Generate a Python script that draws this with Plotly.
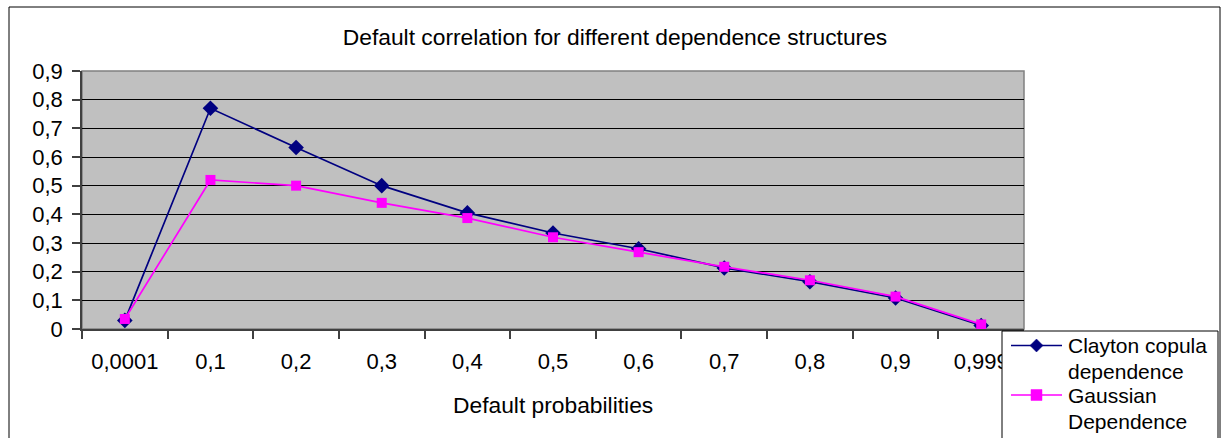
import plotly.graph_objects as go

# Default probability buckets (category axis) and correlations per dependence model
categories = ["0,0001", "0,1", "0,2", "0,3", "0,4", "0,5", "0,6", "0,7", "0,8", "0,9", "0,999"]
clayton = [0.03, 0.77, 0.633, 0.50, 0.405, 0.335, 0.28, 0.213, 0.165, 0.108, 0.012]
gaussian = [0.035, 0.52, 0.50, 0.44, 0.387, 0.32, 0.268, 0.217, 0.17, 0.113, 0.016]

series_names = ["Clayton copula dependence", "Gaussian Dependence"]
series_label_lines = [["Clayton copula", "dependence"], ["Gaussian", "Dependence"]]
series_colors = ["#000080", "#FF00FF"]

y_tickvals = [0, 0.1, 0.2, 0.3, 0.4, 0.5, 0.6, 0.7, 0.8, 0.9]
y_ticktext = ["0", "0,1", "0,2", "0,3", "0,4", "0,5", "0,6", "0,7", "0,8", "0,9"]

FONT = "Liberation Sans, Arial, sans-serif"
FS = 22
FS_TITLE = 22.8
FS_LEG = 21
W, H = 1230, 438
ML, MR, MT, MB = 82, 206, 71, 109

fig = go.Figure()
fig.add_trace(go.Scatter(
    x=categories, y=clayton, mode="lines+markers",
    name=series_names[0], showlegend=False,
    line=dict(color=series_colors[0], width=1.7),
    marker=dict(symbol="diamond", size=12, color=series_colors[0]),
))
fig.add_trace(go.Scatter(
    x=categories, y=gaussian, mode="lines+markers",
    name=series_names[1], showlegend=False,
    line=dict(color=series_colors[1], width=1.7),
    marker=dict(symbol="square", size=10, color=series_colors[1]),
))

pw = W - ML - MR
ph = H - MT - MB


def px_x(p):
    return (p - ML) / pw


def px_y(p):
    return (H - MB - p) / ph


# outer chart frame
fig.add_shape(type="rect", xref="paper", yref="paper",
              x0=px_x(9), x1=px_x(1220), y0=px_y(460), y1=px_y(7),
              line=dict(color="#000000", width=1), layer="below")
# plot area frame
fig.add_shape(type="rect", xref="paper", yref="paper",
              x0=0, x1=1, y0=0, y1=1,
              line=dict(color="#808080", width=1.5), layer="below")

# x-axis title
fig.add_annotation(text="Default probabilities", xref="paper", yref="paper",
                   x=0.5, y=px_y(405), xanchor="center", yanchor="middle",
                   showarrow=False, font=dict(family=FONT, size=FS_TITLE, color="#000000"))

# legend box with keys (line + symbol) and two-line labels
fig.add_shape(type="rect", xref="paper", yref="paper",
              x0=px_x(1002), x1=px_x(1218), y0=px_y(460), y1=px_y(331),
              fillcolor="white", line=dict(color="#000000", width=1), layer="above")


def diamond_path(cx, cy, r):
    pts = [(cx, cy - r), (cx + r, cy), (cx, cy + r), (cx - r, cy)]
    return "M " + " L ".join(f"{px_x(x)},{px_y(y)}" for x, y in pts) + " Z"


def square_path(cx, cy, r):
    pts = [(cx - r, cy - r), (cx + r, cy - r), (cx + r, cy + r), (cx - r, cy + r)]
    return "M " + " L ".join(f"{px_x(x)},{px_y(y)}" for x, y in pts) + " Z"


key_rows = [345.5, 395]
line_rows = [[345.5, 371], [395, 421]]
key_paths = [diamond_path, square_path]
key_sizes = [6.5, 5.5]
for lines, color, ky, rows, path_fn, r in zip(series_label_lines, series_colors, key_rows,
                                              line_rows, key_paths, key_sizes):
    fig.add_shape(type="line", xref="paper", yref="paper",
                  x0=px_x(1011), x1=px_x(1062), y0=px_y(ky), y1=px_y(ky),
                  line=dict(color=color, width=1.7), layer="above")
    fig.add_shape(type="path", xref="paper", yref="paper",
                  path=path_fn(1036.5, ky, r),
                  fillcolor=color, line=dict(color=color, width=0.5), layer="above")
    for text, ty in zip(lines, rows):
        fig.add_annotation(text=text, xref="paper", yref="paper",
                           x=px_x(1067), y=px_y(ty), xanchor="left", yanchor="middle",
                           align="left", showarrow=False, borderpad=0,
                           font=dict(family=FONT, size=FS_LEG, color="#000000"))

fig.update_layout(
    width=W, height=H,
    margin=dict(l=ML, r=MR, t=MT, b=MB, autoexpand=False),
    paper_bgcolor="white",
    plot_bgcolor="#C0C0C0",
    font=dict(family=FONT, size=FS, color="#000000"),
    title=dict(text="Default correlation for different dependence structures",
               x=0.5, xref="container", y=1 - 37 / H, yanchor="middle",
               font=dict(family=FONT, size=FS_TITLE, color="#000000")),
    showlegend=False,
    xaxis=dict(
        type="category",
        range=[-0.5, len(categories) - 0.5],
        tickson="boundaries",
        ticks="outside", ticklen=8, tickcolor="#404040", tickwidth=1.5,
        showline=True, linecolor="#404040", linewidth=1.5,
        showgrid=False, zeroline=False, automargin=False,
        tickfont=dict(family=FONT, size=FS),
        ticklabelstandoff=12,
    ),
    yaxis=dict(
        range=[0, 0.9],
        tickvals=y_tickvals, ticktext=y_ticktext,
        ticks="outside", ticklen=8, tickcolor="#404040", tickwidth=1.5,
        showline=True, linecolor="#404040", linewidth=1.5,
        showgrid=True, gridcolor="#000000", gridwidth=1,
        zeroline=False, automargin=False,
        tickfont=dict(family=FONT, size=FS),
        ticklabelstandoff=5,
    ),
)

fig.write_html("out.html")
